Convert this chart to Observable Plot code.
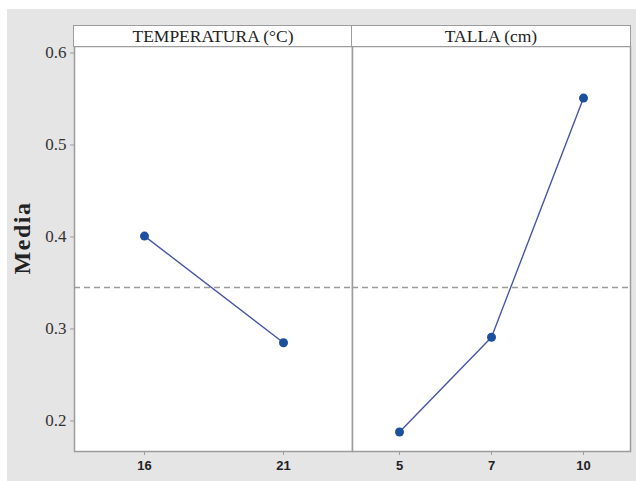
<!DOCTYPE html>
<html>
<head>
<meta charset="utf-8">
<script src="https://cdn.jsdelivr.net/npm/d3@7"></script>
<script src="https://cdn.jsdelivr.net/npm/@observablehq/plot@0.6"></script>
<style>
  html, body { margin: 0; padding: 0; background: #ffffff; }
  #wrap { position: relative; width: 636px; height: 481px; overflow: hidden; }
  #bg { position: absolute; left: 7px; top: 9px; width: 629px; height: 472px; background: #e5e5e5; }
  .panel { position: absolute; top: 9px; }
  .hdr { position: absolute; top: 25px; height: 20px; background: #ffffff; border: 1.5px solid #9c9c9c;
         font-family: "Liberation Serif", "DejaVu Serif", serif; font-size: 17.5px; color: #222;
         text-align: center; line-height: 21px; box-sizing: content-box; }
  #ylab { position: absolute; left: 22px; top: 238px; transform: translate(-50%, -50%) rotate(-90deg);
          font-family: "Liberation Serif", "DejaVu Serif", serif; font-weight: bold; font-size: 24px;
          letter-spacing: 1.5px; color: #222; white-space: nowrap; }
  g[aria-label="y-axis tick label"] { font-family: "Liberation Serif", "DejaVu Serif", serif !important; font-size: 17px !important; }
  g[aria-label="y-axis tick label"] text { font-family: "Liberation Serif", "DejaVu Serif", serif !important; }
  g[aria-label="x-axis tick label"] { font-family: "Liberation Sans Narrow", "Liberation Sans", Arial, sans-serif !important; font-weight: bold; font-size: 13px !important; }
</style>
</head>
<body>
<div id="wrap">
  <div id="bg"></div>
  <div id="p1" class="panel" style="left:7px"></div>
  <div id="p2" class="panel" style="left:352px"></div>
  <div id="h1" class="hdr" style="left:73px; width:278px"></div>
  <div id="h2" class="hdr" style="left:351px; width:278px"></div>
  <div id="ylab"></div>
</div>
<script>
// ---- data ----
const factors = ["TEMPERATURA (°C)", "TALLA (cm)"];
const tempLevels = ["16", "21"];
const tempMeans = [0.401, 0.285];
const tallaLevels = ["5", "7", "10"];
const tallaMeans = [0.188, 0.291, 0.551];
const yTicks = [0.2, 0.3, 0.4, 0.5, 0.6];
const grandMean = 0.345;
const yLabel = "Media";

// ---- styling ----
const frameGray = "#9c9c9c";
const lineBlue = "#4656a6";
const pointBlue = "#1c4f9e";
const yDomain = [0.1668, 0.6071];
const H = 472;
const mTop = 37, mBottom = 30;

function panel(levels, means, opts) {
  const data = levels.map((l, i) => ({level: l, mean: means[i]}));
  const marks = [
    Plot.frame({fill: "#ffffff", stroke: null}),
    Plot.ruleY([grandMean], {stroke: "#9a9a9a", strokeWidth: 1.5, strokeDasharray: "6,4"}),
    Plot.line(data, {x: "level", y: "mean", stroke: lineBlue, strokeWidth: 1.4}),
    Plot.dot(data, {x: "level", y: "mean", r: 4.5, fill: pointBlue, stroke: null}),
    Plot.frame({stroke: frameGray, strokeWidth: 1.5}),
    Plot.axisX({
      tickSize: 4, tickPadding: 5, stroke: frameGray, label: null,
      fontFamily: "'Liberation Sans Narrow', 'Liberation Sans', Arial, sans-serif",
      fontWeight: "bold", fontSize: 13, fill: "#222"
    })
  ];
  if (opts.yAxis) {
    marks.push(Plot.axisY(yTicks, {
      tickSize: 4, tickPadding: 4, stroke: frameGray, label: null,
      tickFormat: d => d.toFixed(1),
      fontFamily: "'Liberation Serif', 'DejaVu Serif', serif",
      fontSize: 17, fill: "#333"
    }));
  }
  return Plot.plot({
    width: opts.width,
    height: H,
    marginLeft: opts.marginLeft,
    marginRight: opts.marginRight,
    marginTop: mTop,
    marginBottom: mBottom,
    style: {background: "transparent", overflow: "visible"},
    x: {type: "point", domain: levels, padding: 0.5, label: null},
    y: {domain: yDomain, label: null, axis: opts.yAxis ? undefined : null},
    marks
  });
}

document.getElementById("p1").appendChild(
  panel(tempLevels, tempMeans, {width: 345, marginLeft: 67, marginRight: 0, yAxis: true})
);
document.getElementById("p2").appendChild(
  panel(tallaLevels, tallaMeans, {width: 284, marginLeft: 0, marginRight: 6, yAxis: false})
);
document.getElementById("h1").textContent = factors[0];
document.getElementById("h2").textContent = factors[1];
document.getElementById("ylab").textContent = yLabel;
</script>
</body>
</html>
